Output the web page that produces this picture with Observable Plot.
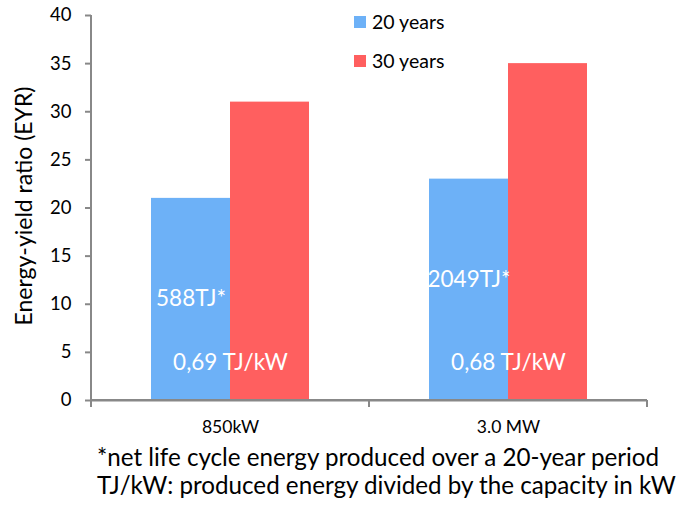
<!DOCTYPE html>
<html>
<head>
<meta charset="utf-8">
<script src="https://cdn.jsdelivr.net/npm/d3@7"></script>
<script src="https://cdn.jsdelivr.net/npm/@observablehq/plot@0.6"></script>
<style>
  body { margin: 0; background: #fff; font-family: Lato, "Open Sans", sans-serif; }
  #wrap { position: relative; width: 678px; height: 506px; overflow: hidden; }
  #chart { position: absolute; left: 0; top: 0; }
  .legend { position: absolute; left: 354px; font-size: 19.5px; color: #000; }
  .legend .item { position: absolute; left: 0; white-space: nowrap; height: 24px; line-height: 24px; }
  .legend .sw { display: inline-block; width: 12px; height: 12px; vertical-align: middle; margin-right: 6px; position: relative; top: -2px; }
  .notes { position: absolute; left: 97px; top: 443px; font-size: 24.2px; line-height: 28px; color: #000; white-space: nowrap; }
  .ytitle { position: absolute; left: 23px; top: 206px; transform: translate(-50%, -50%) rotate(-90deg); font-size: 23px; white-space: nowrap; color: #000; }
</style>
</head>
<body>
<div id="wrap">
  <div id="chart"></div>
  <div class="ytitle" id="ytitle"></div>
  <div class="legend" id="legend"></div>
  <div class="notes" id="notes"></div>
</div>
<script>
// Turbine sizes and the two lifetime scenarios
const turbines = ["850kW", "3.0 MW"];
const periods = ["20 years", "30 years"];
const eyr20 = [21, 23];
const eyr30 = [31, 35];
const periodColors = ["#6DB1F7", "#FF5F5F"];

// In-bar annotations: lifetime energy (on the 20-year bar) and energy per kW
const energyLabels = ["588TJ*", "2049TJ*"];
const energyLabelAt = [10.6, 12.5];
const perKwLabels = ["0,69 TJ/kW", "0,68 TJ/kW"];
const perKwLabelAt = [3.9, 3.9];

const yTicks = [0, 5, 10, 15, 20, 25, 30, 35, 40];
const yTitle = "Energy-yield ratio (EYR)";
const footnotes = [
  "*net life cycle energy produced over a 20-year period",
  "TJ/kW: produced energy divided by the capacity in kW"
];

const axisGray = "#888888";

const rows = turbines.flatMap((t, i) => [
  { turbine: t, period: periods[0], eyr: eyr20[i] },
  { turbine: t, period: periods[1], eyr: eyr30[i] }
]);
const energyRows = turbines.map((t, i) => ({ turbine: t, period: periods[0], y: energyLabelAt[i], text: energyLabels[i] }));
const perKwRows = turbines.map((t, i) => ({ turbine: t, y: perKwLabelAt[i], text: perKwLabels[i] }));

const chart = Plot.plot({
  width: 678,
  height: 440,
  marginLeft: 91,
  marginRight: 31,
  marginTop: 15,
  marginBottom: 40,
  style: { fontFamily: "Lato, 'Open Sans', sans-serif", color: "#000", background: "transparent" },
  fx: { domain: turbines, paddingInner: 0, paddingOuter: 0, label: null, axis: null },
  x: { domain: periods, paddingInner: 0, paddingOuter: 0.755, axis: null },
  y: { domain: [0, 40], label: null, axis: null },
  color: { domain: periods, range: periodColors },
  marks: [
    Plot.barY(rows, { fx: "turbine", x: "period", y: "eyr", fill: "period" }),
    Plot.ruleY([0], { stroke: axisGray, strokeWidth: 2 }),
    Plot.axisY({ ticks: yTicks, tickSize: 6, tickPadding: 14, stroke: axisGray, strokeWidth: 2, fill: "#000", fontSize: 18.5, tickFormat: d => String(d) }),
    Plot.axisFx({ anchor: "bottom", tickSize: 0, tickPadding: 20, fontSize: 17.5, fill: "#000", label: null }),
    Plot.text(energyRows, { fx: "turbine", x: "period", y: "y", text: "text", fill: "#fff", fontSize: 22.5 }),
    Plot.text(perKwRows, { fx: "turbine", y: "y", text: "text", fill: "#fff", fontSize: 22.5 })
  ]
});

document.getElementById("chart").appendChild(chart);

// Axis line on the left and band-boundary tick marks along the base
const svgEl = chart.tagName.toLowerCase() === "svg" ? chart : chart.querySelector("svg");
const svg = d3.select(svgEl);
const fx = chart.scale("fx");
const y = chart.scale("y");
const x0 = fx.apply(turbines[0]);
const xEnd = fx.apply(turbines[turbines.length - 1]) + fx.bandwidth;
const bounds = turbines.map(t => fx.apply(t)).concat([xEnd]);
const g = svg.append("g").attr("stroke", axisGray).attr("stroke-width", 2);
g.append("line").attr("x1", x0).attr("x2", x0).attr("y1", y.apply(40)).attr("y2", y.apply(0));
g.append("line").attr("x1", x0).attr("x2", xEnd).attr("y1", y.apply(0)).attr("y2", y.apply(0));
bounds.forEach(b => g.append("line").attr("x1", b).attr("x2", b).attr("y1", y.apply(0)).attr("y2", y.apply(0) + 7));

// Title, legend and footnotes
document.getElementById("ytitle").textContent = yTitle;
const legend = document.getElementById("legend");
periods.forEach((p, i) => {
  const item = document.createElement("div");
  item.className = "item";
  item.style.top = (10 + i * 39) + "px";
  const sw = document.createElement("span");
  sw.className = "sw";
  sw.style.background = periodColors[i];
  item.appendChild(sw);
  item.appendChild(document.createTextNode(p));
  legend.appendChild(item);
});
const notes = document.getElementById("notes");
footnotes.forEach(t => {
  const d = document.createElement("div");
  d.textContent = t;
  notes.appendChild(d);
});
</script>
</body>
</html>
